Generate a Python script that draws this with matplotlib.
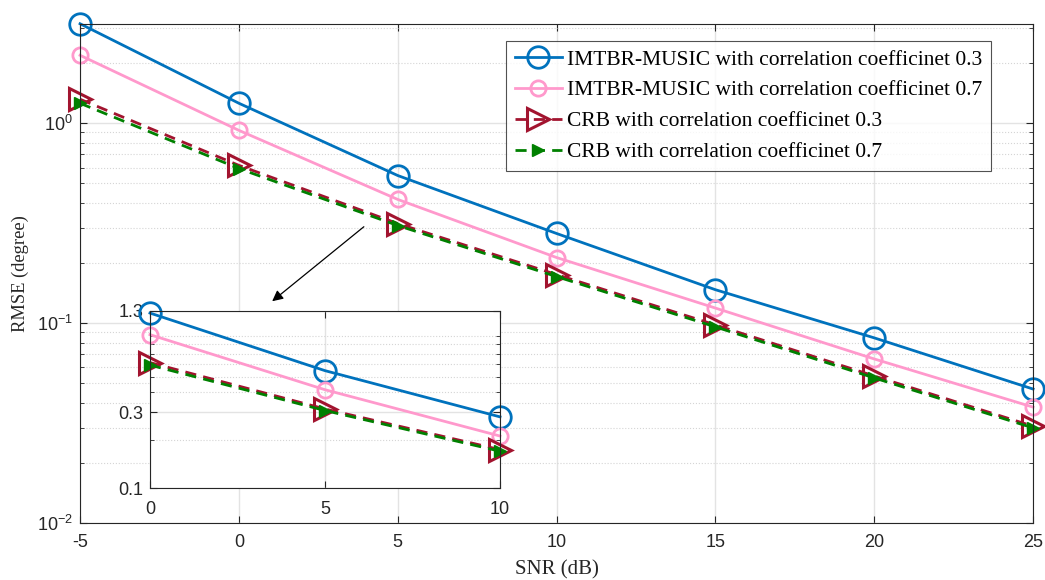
import numpy as np
import matplotlib
matplotlib.use("Agg")
import matplotlib.pyplot as plt
from matplotlib.ticker import LogLocator, NullFormatter, FixedLocator, FixedFormatter

snr = [-5, 0, 5, 10, 15, 20, 25]
music_03 = [3.15, 1.26, 0.548, 0.281, 0.147, 0.0844, 0.0468]
music_07 = [2.19, 0.922, 0.416, 0.213, 0.119, 0.0662, 0.038]
crb_03 = [1.32, 0.616, 0.315, 0.175, 0.098, 0.0544, 0.0305]
crb_07 = [1.26, 0.594, 0.308, 0.171, 0.0958, 0.0532, 0.0299]
labels = ["IMTBR-MUSIC with correlation coefficinet 0.3",
          "IMTBR-MUSIC with correlation coefficinet 0.7",
          "CRB with correlation coefficinet 0.3",
          "CRB with correlation coefficinet 0.7"]
xticks = [-5, 0, 5, 10, 15, 20, 25]
inset_xticks = [0, 5, 10]
inset_yticks = [0.1, 0.3, 1.3]

c_blue = "#0072BD"
c_pink = "#FF99CC"
c_red = "#A2142F"
c_green = "#008000"
c_axis = "#262626"

serif = ["Liberation Serif", "DejaVu Serif"]
sans = ["Liberation Sans Narrow", "Liberation Sans", "DejaVu Sans"]
plt.rcParams["font.family"] = sans
plt.rcParams["axes.unicode_minus"] = False
plt.rcParams["mathtext.fontset"] = "custom"
plt.rcParams["mathtext.rm"] = "Liberation Sans"

fig = plt.figure(figsize=(10.45, 5.8), dpi=100)
ax = fig.add_axes([0.0766, 0.0983, 0.912, 0.8603])


def draw(a, lo, hi):
    idx = [i for i, s in enumerate(snr) if lo <= s <= hi]
    x = [snr[i] for i in idx]
    kw = dict(clip_on=False)
    a.plot(x, [music_03[i] for i in idx], "-", color=c_blue, lw=2.0, marker="o", ms=15.5,
           mfc="none", mec=c_blue, mew=2.0, label=labels[0], **kw)
    a.plot(x, [music_07[i] for i in idx], "-", color=c_pink, lw=2.0, marker="o", ms=11,
           mfc="none", mec=c_pink, mew=2.0, label=labels[1], **kw)
    a.plot(x, [crb_03[i] for i in idx], "--", color=c_red, lw=2.0, marker=">", ms=16.5,
           mfc="none", mec=c_red, mew=2.2, label=labels[2], dashes=(4, 2.6), **kw)
    a.plot(x, [crb_07[i] for i in idx], "--", color=c_green, lw=2.0, marker=">", ms=8,
           mfc=c_green, mec=c_green, mew=1.0, label=labels[3], dashes=(4, 2.6), **kw)


def style(a):
    a.yaxis.set_minor_locator(LogLocator(base=10, subs=np.arange(2, 10), numticks=20))
    a.yaxis.set_minor_formatter(NullFormatter())
    a.grid(True, which="major", color="#E3E3E3", lw=1.0, ls="-")
    a.grid(True, which="minor", axis="y", color="#D5D5D5", lw=0.8, ls=":")
    a.set_axisbelow(True)
    a.tick_params(direction="in", which="both", top=True, right=True, labelsize=13,
                  colors=c_axis, length=5)
    a.tick_params(which="minor", length=3)
    a.tick_params(axis="x", pad=8)
    a.tick_params(axis="y", pad=5)
    for s in a.spines.values():
        s.set_color(c_axis)
        s.set_linewidth(0.8)


draw(ax, -5, 25)
ax.set_yscale("log")
ax.set_xlim(-5, 25)
ax.set_ylim(0.01, 3.14)
ax.set_xticks(xticks)
ax.yaxis.set_major_locator(LogLocator(base=10, numticks=10))
style(ax)
ax.set_xlabel("SNR (dB)", fontsize=15, family=serif, color=c_axis, va="center")
ax.xaxis.set_label_coords(0.5, -(570 - 523) / 499)
ax.set_ylabel("RMSE (degree)", fontsize=13.3, family=serif, color=c_axis, va="center")
ax.yaxis.set_label_coords((20 - 80) / 953, 0.5)

leg = ax.legend(loc="upper right", bbox_to_anchor=(0.956, 0.966),
                prop={"family": serif, "size": 15.5},
                frameon=True, fancybox=False, edgecolor=c_axis, handlelength=2.2,
                handletextpad=0.25, borderpad=0.4, labelspacing=0.5, borderaxespad=0.0)
leg.get_frame().set_linewidth(0.8)

# inset
axi = fig.add_axes([0.1435, 0.158, 0.335, 0.306])
draw(axi, 0, 10)
axi.set_yscale("log")
axi.set_xlim(0, 10)
axi.set_ylim(0.1, 1.3)
axi.xaxis.set_major_locator(FixedLocator(inset_xticks))
axi.yaxis.set_major_locator(FixedLocator(inset_yticks))
axi.yaxis.set_major_formatter(FixedFormatter([str(v) for v in inset_yticks]))
style(axi)
axi.tick_params(axis="x", pad=9)

fig.patches.append(matplotlib.patches.FancyArrowPatch(
    (366 / 1045, 1 - 225 / 580), (270 / 1045, 1 - 303 / 580),
    transform=fig.transFigure, arrowstyle="-|>", mutation_scale=16,
    color="black", lw=0.9))

fig.savefig("out.png", dpi=100)
